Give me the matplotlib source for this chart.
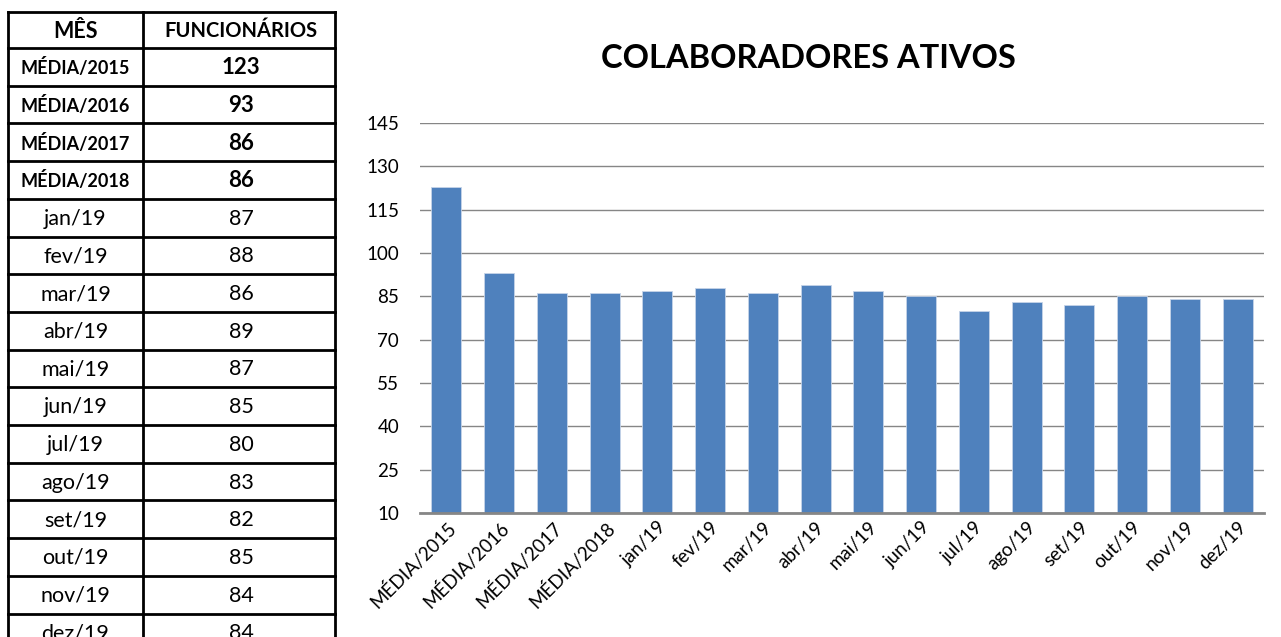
import matplotlib.pyplot as plt
from matplotlib.lines import Line2D

# Dados da tabela / gráfico
meses = ['MÉDIA/2015', 'MÉDIA/2016', 'MÉDIA/2017', 'MÉDIA/2018',
         'jan/19', 'fev/19', 'mar/19', 'abr/19', 'mai/19', 'jun/19',
         'jul/19', 'ago/19', 'set/19', 'out/19', 'nov/19', 'dez/19']
funcionarios = [123, 93, 86, 86, 87, 88, 86, 89, 87, 85, 80, 83, 82, 85, 84, 84]
negrito = [True, True, True, True] + [False] * 12
yticks = [10, 25, 40, 55, 70, 85, 100, 115, 130, 145]

plt.rcParams['font.family'] = ['Lato', 'DejaVu Sans']

fig = plt.figure(figsize=(12.81, 6.37), dpi=100)

# Tabela (coordenadas em pixels)
tab = fig.add_axes([0, 0, 1, 1])
tab.set_xlim(0, 1281)
tab.set_ylim(637, 0)
tab.axis('off')

x0, x1, x2 = 8, 143, 335
y_top = 12
y_head = 48
h = 37.7
n = len(meses)
y_end = 637

# linhas verticais
for x in (x0, x1, x2):
    tab.add_line(Line2D([x, x], [y_top, y_end], color='black', lw=2))
# linhas horizontais
tab.add_line(Line2D([x0, x2], [y_top, y_top], color='black', lw=2))
for i in range(n + 1):
    y = y_head + i * h
    if y < y_end:
        tab.add_line(Line2D([x0, x2], [y, y], color='black', lw=2))

tab.text((x0 + x1) / 2, (y_top + y_head) / 2 + 1, 'MÊS', ha='center', va='center',
         fontsize=15.5, fontweight='bold')
tab.text((x1 + x2) / 2 + 2, (y_top + y_head) / 2 + 1, 'FUNCIONÁRIOS', ha='center', va='center',
         fontsize=14.5, fontweight='bold')
for i, (m, v, b) in enumerate(zip(meses, funcionarios, negrito)):
    yc = y_head + (i + 0.5) * h + 1
    w = 'bold' if b else 'normal'
    fs_m = 13 if b else 15.5
    fs_v = 16 if b else 15.5
    tab.text((x0 + x1) / 2, yc, m, ha='center', va='center', fontsize=fs_m, fontweight=w)
    tab.text((x1 + x2) / 2 + 2, yc, str(v), ha='center', va='center', fontsize=fs_v, fontweight=w)

# Gráfico
ax = fig.add_axes([420 / 1281, 124 / 637, 844 / 1281, 390 / 637])
pos = list(range(n))
ax.bar(pos, funcionarios, width=0.57, color='#4F81BD', edgecolor='#C6D4E8',
       linewidth=0.6, zorder=3)
ax.set_ylim(10, 145)
ax.set_xlim(-0.5, n - 0.5)
ax.set_yticks(yticks)
ax.set_yticklabels([str(t) for t in yticks], fontsize=13.5)
ax.set_xticks(pos)
ax.set_xticklabels(meses, rotation=45, ha='right', rotation_mode='anchor', fontsize=13.5)
ax.yaxis.grid(True, color='#868686', lw=1, zorder=0)
ax.tick_params(axis='both', length=0)
ax.tick_params(axis='y', pad=15)
ax.tick_params(axis='x', pad=4)
for s in ('left', 'right', 'top'):
    ax.spines[s].set_visible(False)
ax.spines['bottom'].set_color('#868686')
ax.spines['bottom'].set_linewidth(2)
ax.spines['bottom'].set_zorder(4)

fig.text(808 / 1281, 1 - 59 / 637, 'COLABORADORES ATIVOS', ha='center', va='center',
         fontsize=23.5, fontweight='bold')

fig.savefig('out.png', dpi=100)
